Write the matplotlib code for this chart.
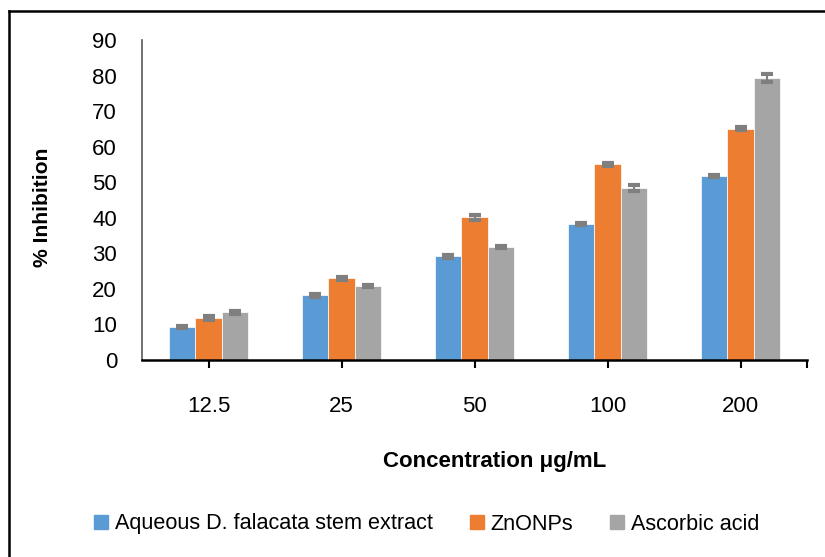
import matplotlib
matplotlib.use("Agg")
import matplotlib.pyplot as plt
from matplotlib.lines import Line2D
import numpy as np

plt.rcParams['font.family'] = ['Liberation Sans', 'DejaVu Sans']

categories = ["12.5", "25", "50", "100", "200"]
series_names = ["Aqueous D. falacata stem extract", "ZnONPs", "Ascorbic acid"]
extract_vals = [9.3, 18.2, 29.2, 38.2, 51.7]
znonp_vals = [11.8, 23.0, 40.1, 55.1, 65.1]
ascorbic_vals = [13.4, 20.8, 31.8, 48.4, 79.3]
extract_err = [0.4, 0.4, 0.4, 0.3, 0.3]
znonp_err = [0.5, 0.4, 0.7, 0.4, 0.3]
ascorbic_err = [0.4, 0.4, 0.3, 0.8, 1.0]
y_ticks = [0, 10, 20, 30, 40, 50, 60, 70, 80, 90]

colors = ["#5B9BD5", "#ED7D31", "#A5A5A5"]
W, H = 825, 557
fig = plt.figure(figsize=(W / 100, H / 100), dpi=100)
ax = fig.add_axes([142 / W, 1 - 360 / H, (807 - 142) / W, 320 / H])

x = np.arange(len(categories))
bw = 0.2
vals = [extract_vals, znonp_vals, ascorbic_vals]
errs = [extract_err, znonp_err, ascorbic_err]
for i, (v, e) in enumerate(zip(vals, errs)):
    ax.bar(x + (i - 1) * bw, v, bw, color=colors[i], edgecolor='white', linewidth=0.5,
           yerr=e, error_kw=dict(ecolor='#7F7F7F', elinewidth=1.5, capsize=4.5, capthick=3),
           zorder=2)

ax.set_xlim(-0.5, 4.5)
ax.set_ylim(0, 90)
ax.set_yticks(y_ticks)
ax.set_yticklabels([str(t) for t in y_ticks], fontsize=16)
ax.tick_params(axis='y', length=0, pad=18)
ax.set_xticks(list(x) + [4.5])
ax.set_xticklabels(categories + [""], fontsize=16)
ax.tick_params(axis='x', length=6, width=1.5, direction='out', pad=20, color='black')

for s in ['top', 'right']:
    ax.spines[s].set_visible(False)
ax.spines['left'].set_color('#595959')
ax.spines['left'].set_linewidth(1.2)
ax.spines['bottom'].set_color('black')
ax.spines['bottom'].set_linewidth(1.8)

fig.text(43 / W, 1 - 207 / H, "% Inhibition", rotation=90, ha='center', va='center',
         fontsize=15.2, fontweight='bold')
fig.text(495 / W, 1 - 462 / H, "Concentration \u03bcg/mL", ha='center', va='center',
         fontsize=16, fontweight='bold')

handles = [Line2D([0], [0], marker='s', linestyle='none', markersize=9.5,
                  markerfacecolor=c, markeredgecolor=c) for c in colors]
fig.legend(handles, series_names, loc='center', bbox_to_anchor=(427 / W, 1 - 524 / H),
           ncol=3, frameon=False, fontsize=15.6, handlelength=0.6, handletextpad=0.35,
           columnspacing=1.7, borderpad=0, borderaxespad=0)

# outer frame (only top and left edges visible)
fig.add_artist(Line2D([9 / W, 1], [1 - 11 / H, 1 - 11 / H], color='black', linewidth=1.8,
                      transform=fig.transFigure))
fig.add_artist(Line2D([9 / W, 9 / W], [0, 1 - 11 / H], color='black', linewidth=1.8,
                      transform=fig.transFigure))

fig.savefig("out.png", dpi=100)
